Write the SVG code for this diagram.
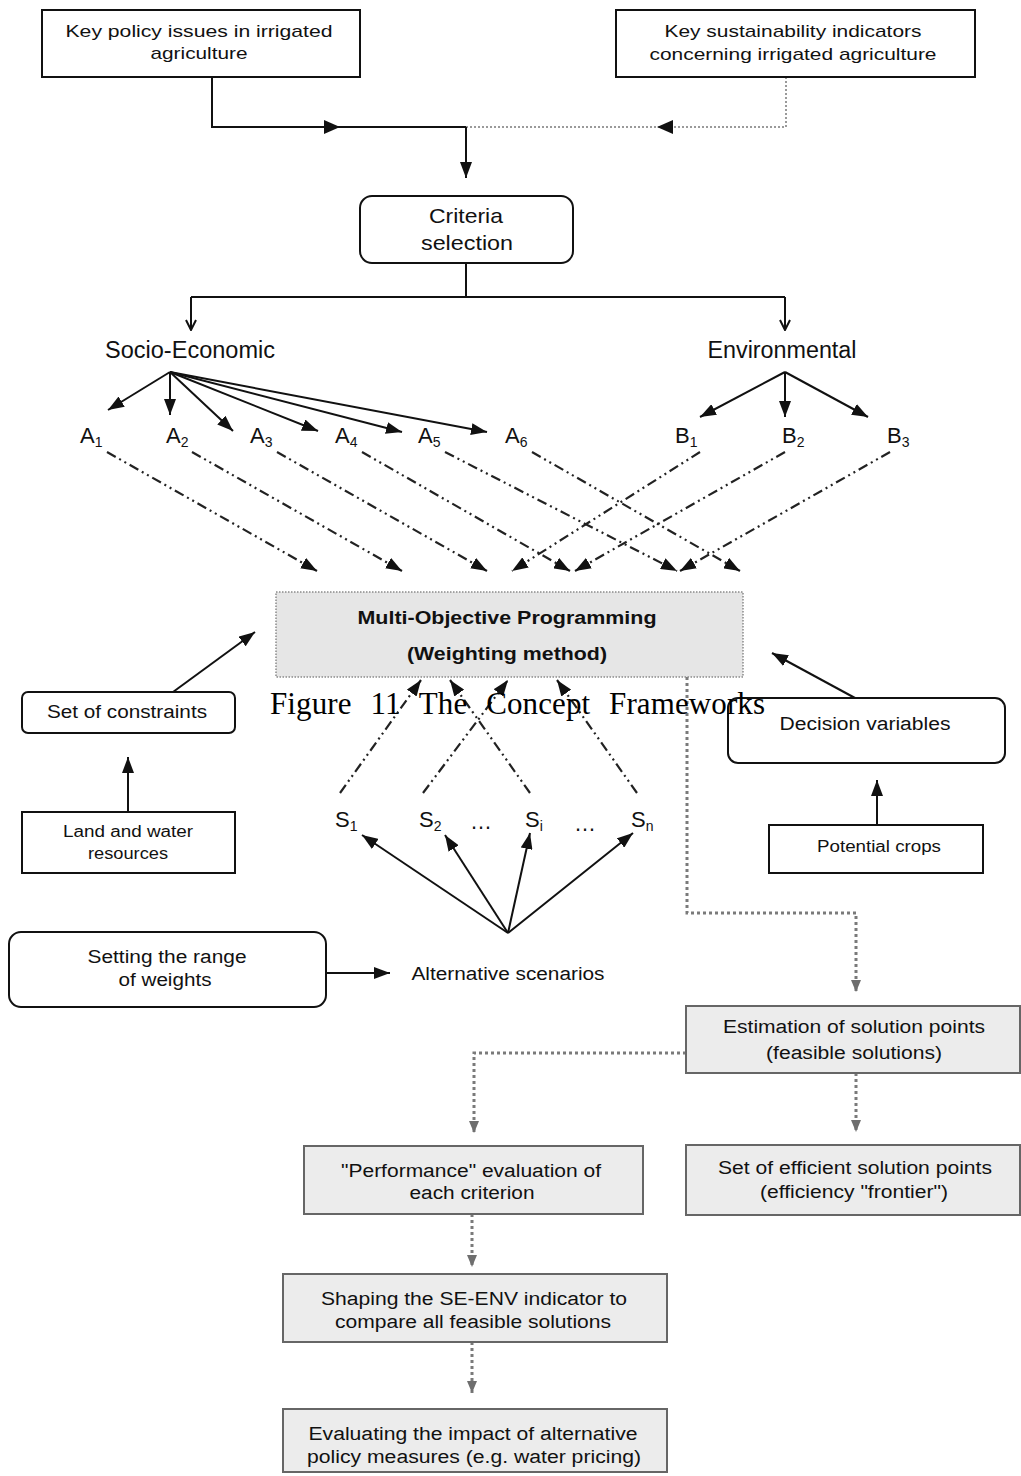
<svg xmlns="http://www.w3.org/2000/svg" width="1021" height="1476" viewBox="0 0 1021 1476">
  <style>
    .box { fill: #ffffff; stroke: #111111; stroke-width: 2; }
    .gbox { fill: #ececec; stroke: #666666; stroke-width: 2; }
    .mop { fill: #e6e6e6; stroke: #8a8a8a; stroke-width: 1.5; stroke-dasharray: 1.5 1.5; }
    .t { font-family: "Liberation Sans", Arial, sans-serif; fill: #111111; text-anchor: middle; }
    .tb { font-family: "Liberation Sans", Arial, sans-serif; font-weight: bold; fill: #111111; text-anchor: middle; }
    .lab { font-family: "Liberation Sans", Arial, sans-serif; font-size: 22px; fill: #111111; }
    .sub { font-size: 14px; }
    .solid { fill: none; stroke: #111111; stroke-width: 2; }
    .dd { fill: none; stroke: #222222; stroke-width: 2.2; stroke-dasharray: 10 4 2 4 2 4; }
    .dot { fill: none; stroke: #7a7a7a; stroke-width: 3; stroke-dasharray: 3 3; }
    .caption { font-family: "Liberation Serif", "Times New Roman", serif; font-size: 31px; fill: #000000; word-spacing: 11px; }
  </style>
  <defs>
    <marker id="ah" viewBox="0 0 16 12" refX="16" refY="6" markerWidth="16" markerHeight="12" markerUnits="userSpaceOnUse" orient="auto">
      <path d="M0,0 L16,6 L0,12 z" fill="#111111"/>
    </marker>
    <marker id="open" viewBox="0 0 12 12" refX="11" refY="6" markerWidth="12" markerHeight="12" markerUnits="userSpaceOnUse" orient="auto">
      <path d="M1,1 L11,6 L1,11" fill="none" stroke="#111111" stroke-width="2"/>
    </marker>
    <marker id="ahg" viewBox="0 0 12 10" refX="12" refY="5" markerWidth="12" markerHeight="10" markerUnits="userSpaceOnUse" orient="auto">
      <path d="M0,0 L12,5 L0,10 z" fill="#6e6e6e"/>
    </marker>
  </defs>

  <!-- connectors -->
  <g id="connectors">
    <!-- inputs merging into criteria selection -->
    <path class="solid" d="M212,77 V127 H466"/>
    <polygon points="324,120 340,127 324,134" fill="#111111"/>
    <path fill="none" stroke="#9a9a9a" stroke-width="2" stroke-dasharray="2 2" d="M786,77 V127 H466"/>
    <polygon points="673,120 657,127 673,134" fill="#111111"/>
    <path class="solid" d="M466,127 V178" marker-end="url(#ah)"/>

    <!-- criteria split -->
    <path class="solid" d="M466,263 V297 M191,297 H785"/>
    <path class="solid" d="M191,297 V330" marker-end="url(#open)"/>
    <path class="solid" d="M785,297 V330" marker-end="url(#open)"/>

    <!-- socio-economic fan -->
    <path class="solid" d="M170,372 L108,410" marker-end="url(#ah)"/>
    <path class="solid" d="M170,372 L170,415" marker-end="url(#ah)"/>
    <path class="solid" d="M170,372 L233,431" marker-end="url(#ah)"/>
    <path class="solid" d="M170,372 L318,431" marker-end="url(#ah)"/>
    <path class="solid" d="M170,372 L402,432" marker-end="url(#ah)"/>
    <path class="solid" d="M170,372 L487,432" marker-end="url(#ah)"/>

    <!-- environmental fan -->
    <path class="solid" d="M785,372 L700,417" marker-end="url(#ah)"/>
    <path class="solid" d="M785,372 L785,417" marker-end="url(#ah)"/>
    <path class="solid" d="M785,372 L868,417" marker-end="url(#ah)"/>

    <!-- criteria into the programming model -->
    <path class="dd" d="M107,452 L317,571" marker-end="url(#ah)"/>
    <path class="dd" d="M192,452 L402,571" marker-end="url(#ah)"/>
    <path class="dd" d="M277,452 L487,571" marker-end="url(#ah)"/>
    <path class="dd" d="M362,452 L570,571" marker-end="url(#ah)"/>
    <path class="dd" d="M445,452 L677,571" marker-end="url(#ah)"/>
    <path class="dd" d="M532,452 L740,571" marker-end="url(#ah)"/>
    <path class="dd" d="M700,452 L512,571" marker-end="url(#ah)"/>
    <path class="dd" d="M785,452 L575,571" marker-end="url(#ah)"/>
    <path class="dd" d="M890,452 L680,571" marker-end="url(#ah)"/>

    <!-- constraints and decision variables -->
    <path class="solid" d="M173,692 L255,632" marker-end="url(#ah)"/>
    <path class="solid" d="M128,812 V757" marker-end="url(#ah)"/>
    <path class="solid" d="M855,698 L772,653" marker-end="url(#ah)"/>
    <path class="solid" d="M877,825 V780" marker-end="url(#ah)"/>

    <!-- scenarios into the programming model -->
    <path class="dd" d="M340,793 L421,680" marker-end="url(#ah)"/>
    <path class="dd" d="M423,793 L508,680" marker-end="url(#ah)"/>
    <path class="dd" d="M530,793 L450,680" marker-end="url(#ah)"/>
    <path class="dd" d="M637,793 L557,680" marker-end="url(#ah)"/>

    <!-- alternative scenarios fan -->
    <path class="solid" d="M508,933 L362,835" marker-end="url(#ah)"/>
    <path class="solid" d="M508,933 L445,835" marker-end="url(#ah)"/>
    <path class="solid" d="M508,933 L530,833" marker-end="url(#ah)"/>
    <path class="solid" d="M508,933 L633,833" marker-end="url(#ah)"/>
    <path class="solid" d="M327,973 H390" marker-end="url(#ah)"/>

    <!-- solution flow -->
    <path class="dot" d="M687,677 V913 H856 V992" marker-end="url(#ahg)"/>
    <path class="dot" d="M686,1053 H474 V1133" marker-end="url(#ahg)"/>
    <path class="dot" d="M856,1073 V1132" marker-end="url(#ahg)"/>
    <path class="dot" d="M472,1214 V1267" marker-end="url(#ahg)"/>
    <path class="dot" d="M472,1342 V1393" marker-end="url(#ahg)"/>
  </g>

  <!-- nodes -->
  <g id="policy-issues">
    <rect class="box" x="42" y="10" width="318" height="67"/>
    <text class="t" x="199" y="37" font-size="17" textLength="267" lengthAdjust="spacingAndGlyphs">Key policy issues in irrigated</text>
    <text class="t" x="199" y="59" font-size="17" textLength="97" lengthAdjust="spacingAndGlyphs">agriculture</text>
  </g>
  <g id="sustainability-indicators">
    <rect class="box" x="616" y="10" width="359" height="67"/>
    <text class="t" x="793" y="37" font-size="17" textLength="257" lengthAdjust="spacingAndGlyphs">Key sustainability indicators</text>
    <text class="t" x="793" y="60" font-size="17" textLength="287" lengthAdjust="spacingAndGlyphs">concerning irrigated agriculture</text>
  </g>
  <g id="criteria-selection">
    <rect class="box" x="360" y="196" width="213" height="67" rx="12"/>
    <text class="t" x="466" y="223" font-size="21" textLength="74" lengthAdjust="spacingAndGlyphs">Criteria</text>
    <text class="t" x="467" y="250" font-size="21" textLength="92" lengthAdjust="spacingAndGlyphs">selection</text>
  </g>
  <g id="socio-economic">
    <text class="t" x="190" y="358" font-size="23" textLength="170" lengthAdjust="spacingAndGlyphs">Socio-Economic</text>
  </g>
  <g id="environmental">
    <text class="t" x="782" y="358" font-size="23" textLength="149" lengthAdjust="spacingAndGlyphs">Environmental</text>
  </g>
  <g id="criteria-a">
    <text class="lab" x="80" y="443">A<tspan class="sub" dy="4">1</tspan></text>
    <text class="lab" x="166" y="443">A<tspan class="sub" dy="4">2</tspan></text>
    <text class="lab" x="250" y="443">A<tspan class="sub" dy="4">3</tspan></text>
    <text class="lab" x="335" y="443">A<tspan class="sub" dy="4">4</tspan></text>
    <text class="lab" x="418" y="443">A<tspan class="sub" dy="4">5</tspan></text>
    <text class="lab" x="505" y="443">A<tspan class="sub" dy="4">6</tspan></text>
  </g>
  <g id="criteria-b">
    <text class="lab" x="675" y="443">B<tspan class="sub" dy="4">1</tspan></text>
    <text class="lab" x="782" y="443">B<tspan class="sub" dy="4">2</tspan></text>
    <text class="lab" x="887" y="443">B<tspan class="sub" dy="4">3</tspan></text>
  </g>
  <g id="multi-objective-programming">
    <rect class="mop" x="276" y="592" width="467" height="85"/>
    <text class="tb" x="507" y="624" font-size="18" textLength="299" lengthAdjust="spacingAndGlyphs">Multi-Objective Programming</text>
    <text class="tb" x="507" y="660" font-size="18" textLength="200" lengthAdjust="spacingAndGlyphs">(Weighting method)</text>
  </g>
  <g id="set-of-constraints">
    <rect class="box" x="22" y="692" width="213" height="41" rx="6"/>
    <text class="t" x="127" y="718" font-size="18" textLength="160" lengthAdjust="spacingAndGlyphs">Set of constraints</text>
  </g>
  <g id="land-water">
    <rect class="box" x="22" y="812" width="213" height="61"/>
    <text class="t" x="128" y="837" font-size="16" textLength="130" lengthAdjust="spacingAndGlyphs">Land and water</text>
    <text class="t" x="128" y="859" font-size="16" textLength="80" lengthAdjust="spacingAndGlyphs">resources</text>
  </g>
  <g id="decision-variables">
    <rect class="box" x="728" y="698" width="277" height="65" rx="10"/>
    <text class="t" x="865" y="730" font-size="18" textLength="171" lengthAdjust="spacingAndGlyphs">Decision variables</text>
  </g>
  <g id="potential-crops">
    <rect class="box" x="769" y="825" width="214" height="48"/>
    <text class="t" x="879" y="852" font-size="16" textLength="124" lengthAdjust="spacingAndGlyphs">Potential crops</text>
  </g>
  <g id="scenarios">
    <text class="lab" x="335" y="827">S<tspan class="sub" dy="4">1</tspan></text>
    <text class="lab" x="419" y="827">S<tspan class="sub" dy="4">2</tspan></text>
    <text class="lab" x="470" y="829" font-size="16">…</text>
    <text class="lab" x="525" y="827">S<tspan class="sub" dy="4">i</tspan></text>
    <text class="lab" x="574" y="831" font-size="16">…</text>
    <text class="lab" x="631" y="827">S<tspan class="sub" dy="4">n</tspan></text>
  </g>
  <g id="alternative-scenarios">
    <text class="t" x="508" y="980" font-size="18" textLength="193" lengthAdjust="spacingAndGlyphs">Alternative scenarios</text>
  </g>
  <g id="range-of-weights">
    <rect class="box" x="9" y="932" width="317" height="75" rx="12"/>
    <text class="t" x="167" y="963" font-size="18" textLength="159" lengthAdjust="spacingAndGlyphs">Setting the range</text>
    <text class="t" x="165" y="986" font-size="18" textLength="93" lengthAdjust="spacingAndGlyphs">of weights</text>
  </g>
  <g id="estimation">
    <rect class="gbox" x="686" y="1006" width="334" height="67"/>
    <text class="t" x="854" y="1033" font-size="18" textLength="262" lengthAdjust="spacingAndGlyphs">Estimation of solution points</text>
    <text class="t" x="854" y="1059" font-size="18" textLength="176" lengthAdjust="spacingAndGlyphs">(feasible solutions)</text>
  </g>
  <g id="efficient-points">
    <rect class="gbox" x="686" y="1145" width="334" height="70"/>
    <text class="t" x="855" y="1174" font-size="18" textLength="274" lengthAdjust="spacingAndGlyphs">Set of efficient solution points</text>
    <text class="t" x="854" y="1198" font-size="18" textLength="188" lengthAdjust="spacingAndGlyphs">(efficiency "frontier")</text>
  </g>
  <g id="performance">
    <rect class="gbox" x="304" y="1146" width="339" height="68"/>
    <text class="t" x="471" y="1177" font-size="18" textLength="260" lengthAdjust="spacingAndGlyphs">"Performance" evaluation of</text>
    <text class="t" x="472" y="1199" font-size="18" textLength="125" lengthAdjust="spacingAndGlyphs">each criterion</text>
  </g>
  <g id="se-env-indicator">
    <rect class="gbox" x="283" y="1274" width="384" height="68"/>
    <text class="t" x="474" y="1305" font-size="18" textLength="306" lengthAdjust="spacingAndGlyphs">Shaping the SE-ENV indicator to</text>
    <text class="t" x="473" y="1328" font-size="18" textLength="276" lengthAdjust="spacingAndGlyphs">compare all feasible solutions</text>
  </g>
  <g id="policy-impact">
    <rect class="gbox" x="283" y="1409" width="384" height="63"/>
    <text class="t" x="473" y="1440" font-size="18" textLength="329" lengthAdjust="spacingAndGlyphs">Evaluating the impact of alternative</text>
    <text class="t" x="474" y="1463" font-size="18" textLength="334" lengthAdjust="spacingAndGlyphs">policy measures (e.g. water pricing)</text>
  </g>

  <!-- figure caption, printed over the drawing -->
  <g id="caption">
    <text class="caption" x="270" y="714" textLength="495" lengthAdjust="spacing">Figure 11 The Concept Frameworks</text>
  </g>
</svg>
